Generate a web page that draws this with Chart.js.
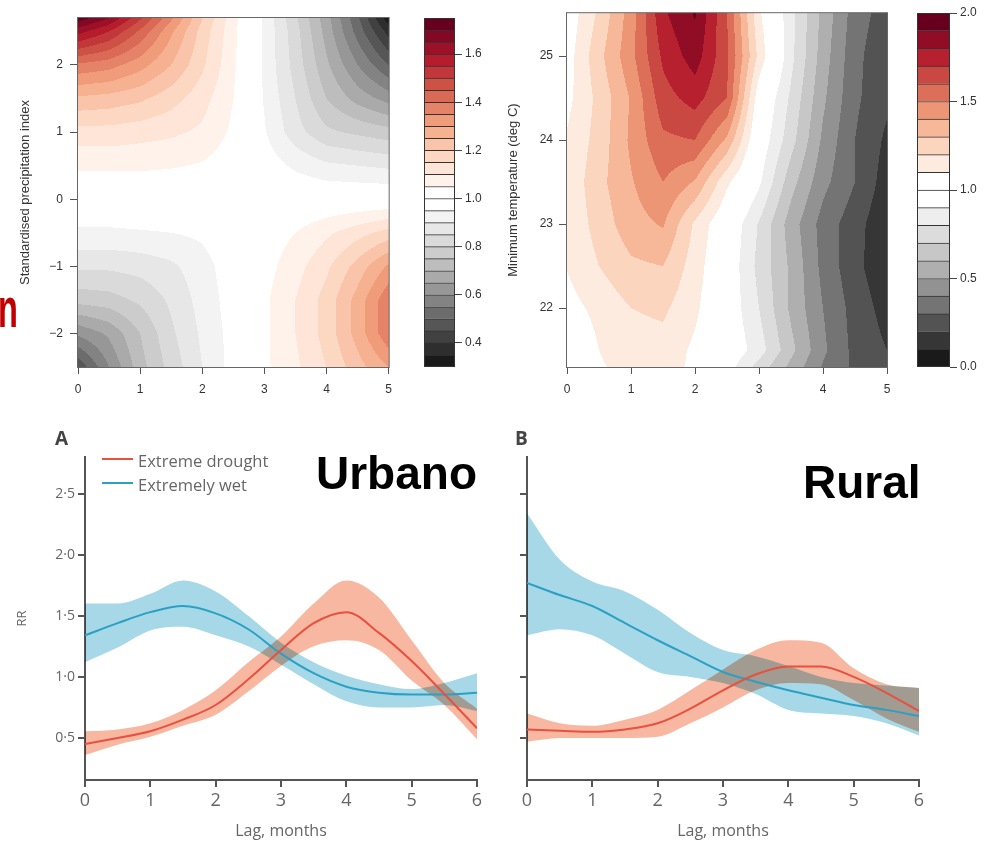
<!DOCTYPE html>
<html>
<head>
<meta charset="utf-8">
<title>RR por rezago</title>
<script src="https://cdn.jsdelivr.net/npm/chart.js@4.4.1/dist/chart.umd.min.js"></script>
<style>
  body { margin: 0; background: #fff; }
  #fig { position: relative; width: 987px; height: 843px; overflow: hidden; }
  #fig canvas { position: absolute; }
  .txt { position: absolute; white-space: nowrap; line-height: 1; }
  .key { position: absolute; height: 0; border-top: 2px solid; width: 31px; }
</style>
</head>
<body>
<div id="fig">
  <canvas id="spiMap" width="400" height="400" style="left:0;top:0"></canvas>
  <canvas id="spiKey" width="90" height="400" style="left:400px;top:0"></canvas>
  <canvas id="tmpMap" width="420" height="400" style="left:480px;top:0"></canvas>
  <canvas id="tmpKey" width="87" height="400" style="left:900px;top:0"></canvas>
  <canvas id="urbChart" width="490" height="423" style="left:0;top:420px"></canvas>
  <canvas id="rurChart" width="497" height="423" style="left:490px;top:420px"></canvas>

  <div class="txt" style="left:-2px;top:275px;font:bold 56px 'Liberation Sans',Arial,sans-serif;color:#c00000;transform:scaleX(0.58);transform-origin:0 0">n</div>

  <div class="txt" style="left:55px;top:425px;font:bold 19px 'Open Sans',sans-serif;color:#444">A</div>
  <div class="txt" style="left:515px;top:425px;font:bold 19px 'Open Sans',sans-serif;color:#444">B</div>

  <div class="key" style="left:102px;top:458px;border-color:#e8503f"></div>
  <div class="txt" style="left:138px;top:449px;font:16.5px 'Open Sans',sans-serif;color:#666">Extreme drought</div>
  <div class="key" style="left:102px;top:482px;border-color:#2ba0c3"></div>
  <div class="txt" style="left:138px;top:473px;font:16.5px 'Open Sans',sans-serif;color:#666">Extremely wet</div>

  <div class="txt" style="left:316px;top:446px;font:bold 46px 'Liberation Sans',Arial,sans-serif;color:#000">Urbano</div>
  <div class="txt" style="left:803px;top:455px;font:bold 46px 'Liberation Sans',Arial,sans-serif;color:#000">Rural</div>
</div>

<script>
//
// top left: RR by lag (months) and standardised precipitation index
// rows follow spiRows from bottom to top, columns follow spiLags
//
const spiLags = [0, 0.5, 1, 1.5, 2, 2.5, 3, 3.5, 4, 4.5, 5];
const spiRows = [-2.5, -2, -1.5, -1, -0.5, 0, 0.5, 1, 1.5, 2, 2.5, 2.7];
const spiRR = [
    [0.46, 0.60, 0.73, 0.82, 0.90, 0.97, 1.04, 1.09, 1.15, 1.23, 1.30],
    [0.61, 0.66, 0.75, 0.84, 0.91, 0.97, 1.04, 1.10, 1.17, 1.27, 1.39],
    [0.77, 0.78, 0.81, 0.86, 0.92, 0.975, 1.04, 1.10, 1.17, 1.27, 1.39],
    [0.86, 0.86, 0.87, 0.89, 0.93, 0.98, 1.03, 1.08, 1.14, 1.22, 1.31],
    [0.94, 0.94, 0.945, 0.95, 0.96, 0.99, 1.02, 1.05, 1.09, 1.13, 1.17],
    [1.00, 1.00, 1.00, 1.00, 1.00, 1.00, 1.00, 1.00, 1.00, 1.00, 1.00],
    [1.06, 1.06, 1.06, 1.055, 1.045, 1.02, 0.98, 0.94, 0.91, 0.90, 0.89],
    [1.13, 1.13, 1.12, 1.11, 1.09, 1.04, 0.955, 0.87, 0.81, 0.79, 0.77],
    [1.24, 1.23, 1.21, 1.17, 1.12, 1.05, 0.945, 0.85, 0.75, 0.68, 0.63],
    [1.39, 1.37, 1.32, 1.25, 1.16, 1.06, 0.94, 0.83, 0.71, 0.60, 0.50],
    [1.62, 1.55, 1.44, 1.31, 1.18, 1.065, 0.94, 0.82, 0.68, 0.53, 0.38],
    [1.73, 1.65, 1.51, 1.36, 1.20, 1.07, 0.94, 0.81, 0.67, 0.51, 0.32]
];
const spiBreaks = [0.30, 0.35, 0.40, 0.45, 0.50, 0.55, 0.60, 0.65, 0.70, 0.75,
    0.80, 0.85, 0.90, 0.95, 1.00, 1.05, 1.10, 1.15, 1.20, 1.25,
    1.30, 1.35, 1.40, 1.45, 1.50, 1.55, 1.60, 1.65, 1.70, 1.75];

//
// top right: RR by lag (months) and minimum temperature (deg C)
//
const tmpLags = [0, 0.5, 1, 1.5, 2, 2.5, 3, 3.5, 4, 4.5, 5];
const tmpRows = [21.3, 21.5, 22, 22.5, 23, 23.5, 24, 24.5, 25, 25.5];
const tmpRR = [
    [0.96, 1.09, 1.13, 1.14, 1.08, 0.95, 0.76, 0.57, 0.39, 0.28, 0.22],
    [0.98, 1.10, 1.15, 1.16, 1.08, 0.99, 0.85, 0.63, 0.42, 0.27, 0.20],
    [1.06, 1.13, 1.20, 1.22, 1.12, 0.98, 0.80, 0.58, 0.40, 0.26, 0.16],
    [1.105, 1.20, 1.28, 1.30, 1.15, 0.98, 0.77, 0.58, 0.37, 0.23, 0.12],
    [1.12, 1.24, 1.36, 1.41, 1.18, 1.00, 0.79, 0.55, 0.36, 0.24, 0.12],
    [1.12, 1.27, 1.39, 1.50, 1.39, 1.12, 0.92, 0.64, 0.43, 0.30, 0.15],
    [1.11, 1.24, 1.42, 1.58, 1.60, 1.38, 0.98, 0.74, 0.48, 0.30, 0.18],
    [1.07, 1.23, 1.41, 1.66, 1.74, 1.60, 1.03, 0.78, 0.52, 0.32, 0.22],
    [1.05, 1.27, 1.47, 1.72, 1.85, 1.62, 1.17, 0.83, 0.55, 0.33, 0.22],
    [1.03, 1.22, 1.45, 1.78, 1.91, 1.60, 1.12, 0.83, 0.57, 0.35, 0.25]
];
const tmpBreaks = [0.0, 0.1, 0.2, 0.3, 0.4, 0.5, 0.6, 0.7, 0.8, 0.9, 1.0,
    1.1, 1.2, 1.3, 1.4, 1.5, 1.6, 1.7, 1.8, 1.9, 2.0];

//
// bottom: RR by lag, A = urbano, B = rural
//
const lagMonths = [0, 0.5, 1, 1.5, 2, 2.5, 3, 3.5, 4, 4.5, 5, 5.5, 6];

const urbWet =       [1.34, 1.44, 1.53, 1.58, 1.52, 1.39, 1.19, 1.03, 0.92, 0.87, 0.855, 0.855, 0.87];
const urbWetHi =     [1.60, 1.60, 1.68, 1.79, 1.70, 1.50, 1.28, 1.12, 1.01, 0.94, 0.90, 0.95, 1.03];
const urbWetLo =     [1.12, 1.24, 1.38, 1.41, 1.34, 1.25, 1.10, 0.94, 0.80, 0.75, 0.75, 0.77, 0.72];
const urbDrought =   [0.45, 0.50, 0.555, 0.65, 0.77, 0.98, 1.22, 1.44, 1.53, 1.36, 1.13, 0.86, 0.58];
const urbDroughtHi = [0.555, 0.57, 0.62, 0.73, 0.89, 1.12, 1.33, 1.60, 1.79, 1.65, 1.30, 0.95, 0.74];
const urbDroughtLo = [0.36, 0.445, 0.51, 0.60, 0.69, 0.88, 1.09, 1.25, 1.30, 1.22, 0.97, 0.77, 0.49];

const rurWet =       [1.77, 1.67, 1.58, 1.44, 1.30, 1.17, 1.04, 0.96, 0.89, 0.83, 0.77, 0.73, 0.68];
const rurWetHi =     [2.34, 1.96, 1.78, 1.70, 1.55, 1.36, 1.22, 1.17, 1.09, 1.00, 0.95, 0.93, 0.91];
const rurWetLo =     [1.34, 1.39, 1.34, 1.19, 1.04, 1.00, 0.95, 0.86, 0.73, 0.70, 0.68, 0.62, 0.52];
const rurDrought =   [0.57, 0.56, 0.55, 0.57, 0.62, 0.74, 0.89, 1.02, 1.085, 1.085, 1.00, 0.87, 0.72];
const rurDroughtHi = [0.70, 0.62, 0.60, 0.65, 0.73, 0.89, 1.06, 1.22, 1.30, 1.28, 1.07, 0.94, 0.91];
const rurDroughtLo = [0.47, 0.50, 0.50, 0.50, 0.51, 0.62, 0.75, 0.89, 0.95, 0.94, 0.81, 0.66, 0.55];


Chart.defaults.animation = false;
Chart.defaults.responsive = false;
Chart.defaults.plugins.legend.display = false;
Chart.defaults.plugins.tooltip.enabled = false;
Chart.defaults.font.family = "'Liberation Sans', Arial, sans-serif";

const LANCET = "'Open Sans', sans-serif";


//
// colours of the contour bands (RdGy, white round 1.0)
//
const redStops = ['#ffffff', '#fddbc7', '#f4a582', '#d6604d', '#b2182b', '#67001f'];
const greyStops = ['#ffffff', '#e0e0e0', '#bababa', '#878787', '#4d4d4d', '#1a1a1a'];

function hex(c) { return [1, 3, 5].map(i => parseInt(c.substr(i, 2), 16)); }

function mix(stops, t) {
    const s = Math.min(stops.length - 2, Math.floor(t * (stops.length - 1)));
    const f = t * (stops.length - 1) - s;
    const a = hex(stops[s]), b = hex(stops[s + 1]);
    return 'rgb(' + a.map((v, i) => Math.round(v + (b[i] - v) * f)).join(',') + ')';
}

function bandColors(breaks) {
    const c = breaks.findIndex(b => Math.abs(b - 1) < 1e-9);
    const nUp = breaks.length - 1 - c;
    const nDown = c;
    const cols = [];
    for (let i = 0; i < breaks.length - 1; i++) {
        if (i >= c) cols.push(mix(redStops, (i - c) / (nUp - 1)));
        else cols.push(mix(greyStops, (c - 1 - i) / (nDown - 1)));
    }
    return cols;
}

function bandOf(breaks, v) {
    for (let i = 0; i < breaks.length - 2; i++) {
        if (v < breaks[i + 1]) return i;
    }
    return breaks.length - 2;
}

// value inside the grid, between the four nodes round it
function sample(xs, ys, z, x, y) {
    let i = 0;
    while (i < xs.length - 2 && x > xs[i + 1]) i++;
    let j = 0;
    while (j < ys.length - 2 && y > ys[j + 1]) j++;
    const tx = Math.max(0, Math.min(1, (x - xs[i]) / (xs[i + 1] - xs[i])));
    const ty = Math.max(0, Math.min(1, (y - ys[j]) / (ys[j + 1] - ys[j])));
    const lo = z[j][i] * (1 - tx) + z[j][i + 1] * tx;
    const hi = z[j + 1][i] * (1 - tx) + z[j + 1][i + 1] * tx;
    return lo * (1 - ty) + hi * ty;
}

function contourPlugin(xs, ys, z, breaks) {
    const cols = bandColors(breaks);
    return {
        id: 'contour',
        beforeDatasetsDraw(chart) {
            const { ctx, chartArea: a, scales } = chart;
            const x0 = Math.round(a.left), x1 = Math.round(a.right);
            const y0 = Math.round(a.top), y1 = Math.round(a.bottom);
            const xv = [];
            for (let px = x0; px < x1; px++) xv.push(scales.x.getValueForPixel(px + 0.5));
            ctx.save();
            for (let py = y0; py < y1; py++) {
                const yv = scales.y.getValueForPixel(py + 0.5);
                let start = x0, cur = null;
                for (let k = 0; k <= xv.length; k++) {
                    const col = k < xv.length ? cols[bandOf(breaks, sample(xs, ys, z, xv[k], yv))] : null;
                    if (col !== cur) {
                        if (cur) { ctx.fillStyle = cur; ctx.fillRect(start, py, x0 + k - start, 1); }
                        start = x0 + k;
                        cur = col;
                    }
                }
            }
            ctx.restore();
        },
        afterDatasetsDraw(chart) {
            const { ctx, chartArea: a } = chart;
            ctx.save();
            ctx.strokeStyle = '#666';
            ctx.lineWidth = 1;
            ctx.strokeRect(a.left - 0.5, a.top - 0.5, a.right - a.left + 1, a.bottom - a.top + 1);
            ctx.restore();
        }
    };
}

function boxPlugin() {
    return {
        id: 'box',
        afterDatasetsDraw(chart) {
            const { ctx, chartArea: a } = chart;
            ctx.save();
            ctx.strokeStyle = '#333';
            ctx.lineWidth = 1;
            ctx.strokeRect(a.left + 0.5, a.top + 0.5, a.right - a.left - 1, a.bottom - a.top - 1);
            ctx.restore();
        }
    };
}

function minusSign(v) { return v < 0 ? '\u2212' + Math.abs(v) : String(v); }


//
// contour maps
//
function mapChart(id, o) {
    return new Chart(document.getElementById(id), {
        type: 'scatter',
        data: { datasets: [] },
        options: {
            layout: { padding: o.pad },
            scales: {
                x: {
                    type: 'linear', min: 0, max: 5,
                    afterFit: s => { s.height = 33; },
                    ticks: { stepSize: 1, color: '#333', font: { size: 12 }, padding: 8, maxRotation: 0 },
                    grid: { drawOnChartArea: false, tickLength: 7, color: '#555' },
                    border: { display: false }
                },
                y: {
                    type: 'linear', min: o.yMin, max: o.yMax,
                    afterFit: s => { s.width = o.yW; },
                    ticks: { stepSize: 1, includeBounds: false, color: '#333', font: { size: 12 }, padding: o.tickPad, callback: minusSign },
                    grid: { drawOnChartArea: false, tickLength: 8, color: '#555' },
                    border: { display: false },
                    title: { display: true, text: o.title, color: '#333', font: { size: 13 }, padding: { top: o.titlePad, bottom: 0 } }
                }
            }
        },
        plugins: [contourPlugin(o.xs, o.ys, o.z, o.breaks)]
    });
}

mapChart('spiMap', {
    pad: { top: 18, right: 7, left: 0, bottom: 0 }, yW: 78, yMin: -2.5, yMax: 2.7,
    tickPad: 7, title: 'Standardised precipitation index', titlePad: 18,
    xs: spiLags, ys: spiRows, z: spiRR, breaks: spiBreaks
});

mapChart('tmpMap', {
    pad: { top: 13, right: 13, left: 0, bottom: 0 }, yW: 87, yMin: 21.3, yMax: 25.51,
    tickPad: 6, title: 'Minimum temperature (deg C)', titlePad: 26,
    xs: tmpLags, ys: tmpRows, z: tmpRR, breaks: tmpBreaks
});


//
// colour keys
//
function keyChart(id, o) {
    const cols = bandColors(o.breaks);
    const sets = [];
    for (let i = 0; i < o.breaks.length - 1; i++) {
        sets.push({
            data: [[o.breaks[i], o.breaks[i + 1]]],
            backgroundColor: cols[i],
            borderColor: '#333',
            borderWidth: { top: 1, bottom: 0, left: 0, right: 0 },
            borderSkipped: false,
            grouped: false,
            barPercentage: 1,
            categoryPercentage: 1
        });
    }
    return new Chart(document.getElementById(id), {
        type: 'bar',
        data: { labels: ['key'], datasets: sets },
        options: {
            layout: { padding: o.pad },
            scales: {
                x: { display: false },
                y: {
                    position: 'right', min: o.min, max: o.max,
                    afterFit: s => { s.width = o.yW; },
                    ticks: { stepSize: o.step, includeBounds: false, color: '#333', font: { size: 12 }, padding: 3, callback: v => v.toFixed(1) },
                    grid: { drawOnChartArea: false, tickLength: 7, color: '#444' },
                    border: { display: false }
                }
            }
        },
        plugins: [boxPlugin()]
    });
}

keyChart('spiKey', { pad: { left: 24, top: 18, bottom: 33, right: 0 }, yW: 35, min: 0.3, max: 1.75, step: 0.2, breaks: spiBreaks });
keyChart('tmpKey', { pad: { left: 17, top: 13, bottom: 33, right: 0 }, yW: 37, min: 0, max: 2, step: 0.5, breaks: tmpBreaks });


//
// lag curves with confidence bands
//
const redLine = '#e8503f', blueLine = '#2ba0c3';
const redBand = 'rgb(247,183,160)', blueBand = 'rgb(166,216,232)';

function pts(ys) { return lagMonths.map((x, i) => ({ x: x, y: ys[i] })); }

// bands are multiplied so the overlap turns grey like in the print
const multiplyBands = {
    id: 'multiplyBands',
    beforeDatasetsDraw(chart) { chart.ctx.globalCompositeOperation = 'multiply'; },
    afterDatasetDraw(chart, args) { if (args.index === 2) chart.ctx.globalCompositeOperation = 'source-over'; },
    afterDatasetsDraw(chart) { chart.ctx.globalCompositeOperation = 'source-over'; }
};

function lagChart(id, o) {
    const line = (ys, col) => ({ data: pts(ys), borderColor: col, borderWidth: 2, fill: false });
    const band = (ys, col, fill) => ({ data: pts(ys), borderWidth: 0, borderColor: 'transparent', backgroundColor: col, fill: fill });
    return new Chart(document.getElementById(id), {
        type: 'line',
        data: {
            datasets: [
                line(o.drought, redLine),
                line(o.wet, blueLine),
                band(o.wetHi, blueBand, '+1'),
                band(o.wetLo, blueBand, false),
                band(o.droughtHi, redBand, '+1'),
                band(o.droughtLo, redBand, false)
            ]
        },
        options: {
            layout: { padding: o.pad },
            elements: { point: { radius: 0 }, line: { cubicInterpolationMode: 'monotone' } },
            scales: {
                x: {
                    type: 'linear', min: 0, max: 6,
                    afterFit: s => { s.height = 63; },
                    ticks: { stepSize: 1, color: '#666', font: { family: LANCET, size: 18 }, padding: 3, maxRotation: 0 },
                    grid: { drawOnChartArea: false, tickLength: 7, color: '#555', lineWidth: 2 },
                    border: { color: '#555', width: 2 },
                    title: { display: true, text: 'Lag, months', color: '#666', font: { family: LANCET, size: 16 }, padding: { top: 0, bottom: 2 } }
                },
                y: {
                    type: 'linear', min: 0.156, max: 2.8,
                    afterFit: s => { s.width = o.yW; },
                    ticks: { stepSize: 0.5, includeBounds: false, display: o.showY, color: '#666', font: { family: LANCET, size: 14 }, padding: 3,
                        callback: v => v.toFixed(1).replace('.', '\u00b7') },
                    grid: { drawOnChartArea: false, tickLength: 7, color: '#555', lineWidth: 2 },
                    border: { color: '#555', width: 2 },
                    title: { display: o.showY, text: 'RR', color: '#666', font: { family: LANCET, size: 13 }, padding: { top: 14, bottom: 0 } }
                }
            }
        },
        plugins: [multiplyBands]
    });
}

lagChart('urbChart', {
    pad: { top: 37, right: 13, left: 0, bottom: 0 }, yW: 85, showY: true,
    wet: urbWet, wetHi: urbWetHi, wetLo: urbWetLo,
    drought: urbDrought, droughtHi: urbDroughtHi, droughtLo: urbDroughtLo
});

lagChart('rurChart', {
    pad: { top: 37, right: 68, left: 0, bottom: 0 }, yW: 37, showY: false,
    wet: rurWet, wetHi: rurWetHi, wetLo: rurWetLo,
    drought: rurDrought, droughtHi: rurDroughtHi, droughtLo: rurDroughtLo
});
</script>
</body>
</html>
